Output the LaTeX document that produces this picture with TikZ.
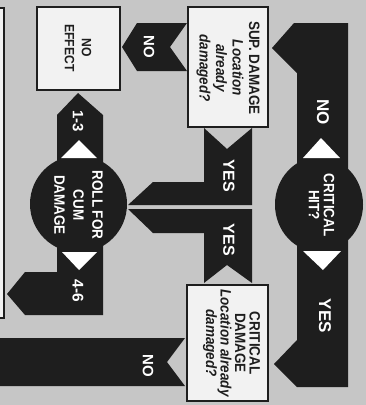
\documentclass[tikz,border=0pt]{standalone}
\usepackage{fontspec}
\setmainfont{Liberation Sans}
\newfontfamily\condfont[FakeStretch=0.9]{Liberation Sans}
\usetikzlibrary{shapes.geometric}
\definecolor{bg}{HTML}{C6C6C6}
\definecolor{ink}{HTML}{1E1E1E}
\definecolor{paper}{HTML}{F2F2F2}
\tikzset{
  band/.style={fill=ink},
  boxshape/.style={draw=ink, line width=1.1pt, fill=paper},
  boxtext/.style={rotate=-90, align=center, inner sep=0pt, text=ink},
  disc/.style={fill=ink, inner sep=0pt},
  disctext/.style={rotate=-90, align=center, inner sep=0pt, text=white,
    font=\condfont\bfseries\fontsize{15}{15}\selectfont},
  lab/.style={rotate=-90, inner sep=0pt, text=white, font=\bfseries\fontsize{16}{16}\selectfont},
  tri/.style={fill=white}
}
\begin{document}
\begin{tikzpicture}[x=1pt,y=-1pt]
\useasboundingbox (0,0) rectangle (366,405);
\clip (0,0) rectangle (366,405);
\fill[bg] (0,0) rectangle (366,405);

% boxes
\node[boxshape, minimum width=80pt, minimum height=120pt, inner sep=0pt] (sup) at (228,67) {};
\node[boxshape, minimum width=81pt, minimum height=116pt, inner sep=0pt] (crit) at (227.5,343) {};
\node[boxshape, minimum width=83pt, minimum height=83pt, inner sep=0pt] (noeff) at (78.5,48.5) {};
\node[boxshape, minimum width=20pt, minimum height=310pt, inner sep=0pt] (leftbox) at (-6,163) {};

% right bar: CRITICAL HIT? -> NO (sup) / YES (crit)
\fill[band] (348,23) -- (294,23) -- (272,48) -- (297,73) -- (297,340)
  -- (274,364) -- (297,387) -- (348,387) -- cycle;
% NO: sup -> no effect
\fill[band] (187,23) -- (137,23) -- (122,47) -- (137,71) -- (187,71) -- (170,47) -- cycle;
% YES: sup -> roll
\fill[band] (204,128) -- (227,149) -- (252,128) -- (252,205) -- (128,205)
  -- (153,182) -- (204,182) -- cycle;
% YES: crit -> roll
\fill[band] (204,283) -- (227,265) -- (252,283) -- (252,209) -- (128,209)
  -- (153,233) -- (204,233) -- cycle;
% 1-3: roll -> no effect
\fill[band] (57,200) -- (57,115) -- (78,93) -- (103,115) -- (103,200) -- cycle;
% 4-6: roll -> left box
\fill[band] (57,200) -- (57,272) -- (25,272) -- (7,294) -- (25,315)
  -- (103,315) -- (103,200) -- cycle;
% NO: crit -> off picture
\fill[band] (-10,338) -- (185,338) -- (167,362) -- (185,386) -- (-10,386) -- cycle;

% discs
\node[disc, ellipse, minimum width=88pt, minimum height=95pt] (hit) at (319,204.5) {};
\node[disc, circle, minimum size=97pt] (roll) at (78.5,204) {};

% white arrowheads
\fill[tri] (303,158) -- (340,158) -- (321,138) -- cycle;
\fill[tri] (303,251) -- (341,251) -- (323,270) -- cycle;
\fill[tri] (61,158) -- (97,158) -- (79,140) -- cycle;
\fill[tri] (62,252) -- (97,252) -- (79,270) -- cycle;

% texts
\node[disctext] (hittext) at (321.5,205) {CRITICAL\\[0pt]HIT?};
\node[disctext, font=\condfont\bfseries\fontsize{15}{19}\selectfont] (rolltext) at (78.5,205) {ROLL FOR\\CUM\\DAMAGE};

\node[boxtext, font=\condfont\bfseries\fontsize{15}{16.5}\selectfont] (suptext) at (228,68)
  {SUP. DAMAGE\\\itshape Location\\\itshape already\\\itshape damaged?};
\node[boxtext, font=\condfont\bfseries\fontsize{15}{14.5}\selectfont] (crittext) at (231.5,343)
  {CRITICAL\\DAMAGE\\\itshape Location already\\\itshape damaged?};
\node[boxtext, font=\condfont\bfseries\fontsize{13.5}{17}\selectfont] (noefftext) at (78,48)
  {NO\\EFFECT};

\node[lab, font=\bfseries\fontsize{17}{17}\selectfont] (labno1) at (323,112) {NO};
\node[lab, font=\bfseries\fontsize{17}{17}\selectfont] (labyes1) at (325,316) {YES};
\node[lab, font=\bfseries\fontsize{15}{15}\selectfont] (labno2) at (149,47) {NO};
\node[lab] (labyes2) at (229,176) {YES};
\node[lab] (labyes3) at (229,240) {YES};
\node[lab, font=\bfseries\fontsize{15}{15}\selectfont] (lab13) at (78,121) {1-3};
\node[lab, font=\bfseries\fontsize{15.5}{15.5}\selectfont] (lab46) at (78,291) {4-6};
\node[lab, font=\bfseries\fontsize{15}{15}\selectfont] (labno3) at (148,366) {NO};
\end{tikzpicture}
\end{document}
